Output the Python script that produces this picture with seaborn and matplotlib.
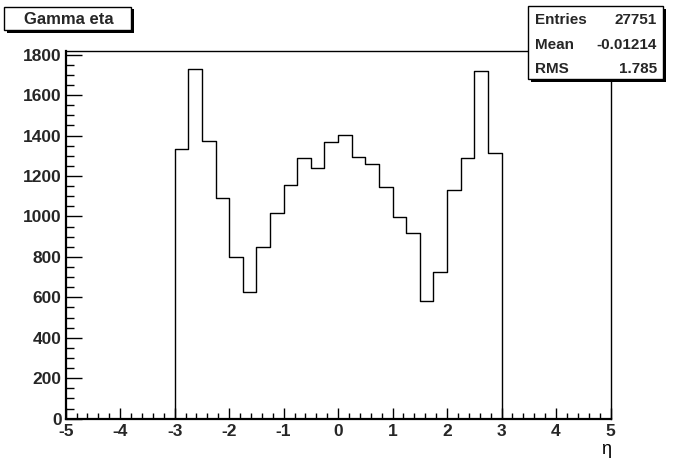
import numpy as np
import pandas as pd
import matplotlib
matplotlib.use("Agg")
import matplotlib.pyplot as plt
from matplotlib.patches import Rectangle
from matplotlib.ticker import MultipleLocator
import seaborn as sns

# ---- data ----
bin_lo, bin_w = -3.0, 0.25
counts = [1334, 1729, 1375, 1093, 798, 626, 850, 1015, 1157, 1291, 1240, 1370,
          1403, 1294, 1259, 1144, 997, 916, 580, 727, 1131, 1291, 1718, 1315]
title = "Gamma eta"
stats_labels = ["Entries", "Mean", "RMS"]
stats_values = ["27751", "-0.01214", "1.785"]
x_label = "\u03b7"
x_range = (-5, 5)
y_max = 1818

edges = np.arange(len(counts) + 1) * bin_w + bin_lo
centers = (edges[:-1] + edges[1:]) / 2
df = pd.DataFrame({"eta": centers, "n": counts})

sns.set_style("white")
plt.rcParams["font.family"] = ["Liberation Sans", "DejaVu Sans"]
plt.rcParams["axes.unicode_minus"] = False

W, H = 677, 467
fig = plt.figure(figsize=(W / 100, H / 100), dpi=100)
fig.patch.set_facecolor("white")

def fx(x):
    return x / W

def fy(y):
    return 1 - y / H

left, right, top, bottom = 65.7, 610.5, 51.0, 418.7
ax = fig.add_axes([fx(left), fy(bottom), fx(right) - fx(left), fy(top) - fy(bottom)])

# full histogram range (empty bins outside the filled region), like ROOT
sns.histplot(data=df, x="eta", weights="n", binwidth=bin_w,
             binrange=x_range, element="step",
             fill=False, color="black", linewidth=1.0, ax=ax)

ax.set_xlim(*x_range)
ax.set_ylim(0, y_max)
ax.set_xlabel("")
ax.set_ylabel("")

ax.xaxis.set_major_locator(MultipleLocator(1))
ax.xaxis.set_minor_locator(MultipleLocator(0.2))
ax.yaxis.set_major_locator(MultipleLocator(200))
ax.yaxis.set_minor_locator(MultipleLocator(50))

ax.tick_params(axis="x", which="major", direction="in", length=8, width=1,
               color="black", pad=4, labelsize=12.5, bottom=True, top=False)
ax.tick_params(axis="x", which="minor", direction="in", length=4, width=1,
               color="black", bottom=True, top=False)
ax.tick_params(axis="y", which="major", direction="in", length=11.5, width=1,
               color="black", pad=3, labelsize=12.5, left=True, right=False)
ax.tick_params(axis="y", which="minor", direction="in", length=5.8, width=1,
               color="black", left=True, right=False)
for lab in ax.get_xticklabels() + ax.get_yticklabels():
    lab.set_fontweight("bold")

for side in ["top", "right"]:
    ax.spines[side].set_visible(True)
    ax.spines[side].set_linewidth(1.0)
    ax.spines[side].set_color("black")
for side in ["left", "bottom"]:
    ax.spines[side].set_linewidth(1.6)
    ax.spines[side].set_color("black")

# x-axis title
fig.text(fx(606), fy(449), x_label, ha="center", va="center", fontsize=13,
         color="black")

def box(x0, y0, x1, y1, sh=3):
    shadow = Rectangle((fx(x0 + sh), fy(y1 + sh)), fx(x1 - x0), fy(y0) - fy(y1),
                       transform=fig.transFigure, facecolor="black",
                       edgecolor="black", linewidth=0, zorder=5)
    rect = Rectangle((fx(x0), fy(y1)), fx(x1 - x0), fy(y0) - fy(y1),
                     transform=fig.transFigure, facecolor="white",
                     edgecolor="black", linewidth=1.0, zorder=6)
    fig.add_artist(shadow)
    fig.add_artist(rect)

# title box
box(4, 7, 131, 30, sh=2.5)
fig.text(fx(69), fy(19), title, ha="center", va="center", fontsize=12,
         fontweight="bold", zorder=7)

# stats box
box(528, 6, 663, 79, sh=2.5)
rows_y = [20, 45, 69]
for lab, val, yy in zip(stats_labels, stats_values, rows_y):
    fig.text(fx(535), fy(yy), lab, ha="left", va="center", fontsize=11,
             fontweight="bold", zorder=7)
    fig.text(fx(657), fy(yy), val, ha="right", va="center", fontsize=11,
             fontweight="bold", zorder=7)

fig.savefig("out.png", dpi=100, facecolor="white")
